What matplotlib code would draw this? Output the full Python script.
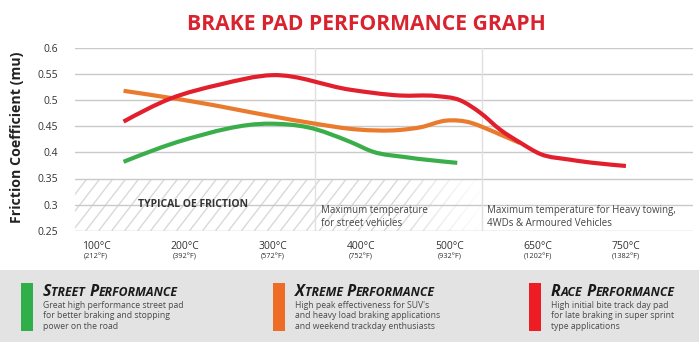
import numpy as np
import matplotlib
matplotlib.use("Agg")
import matplotlib.pyplot as plt
from matplotlib.path import Path
from matplotlib.patches import PathPatch, Rectangle
from matplotlib.collections import LineCollection

plt.rcParams['font.family'] = ['Open Sans', 'DejaVu Sans']

# data (x = position of temperature tick, 0 = 100°C ... 6 = 750°C)
temps_c = ['100°C', '200°C', '300°C', '400°C', '500°C', '650°C', '750°C']
temps_f = ['(212°F)', '(392°F)', '(572°F)', '(752°F)', '(932°F)', '(1202°F)', '(1382°F)']
y_ticks = [0.25, 0.3, 0.35, 0.4, 0.45, 0.5, 0.55, 0.6]

street_x = [0.31, 1.0, 1.97, 2.4, 2.88, 3.14, 3.5, 4.09]
street_y = [0.382, 0.424, 0.455, 0.448, 0.420, 0.401, 0.391, 0.380]

xtreme_x = [0.31, 1.18, 1.97, 2.48, 2.95, 3.44, 3.67, 3.97, 4.24, 4.37, 4.58, 4.8]
xtreme_y = [0.518, 0.495, 0.470, 0.455, 0.444, 0.443, 0.448, 0.461, 0.457, 0.449, 0.434, 0.418]

race_x = [0.31, 0.84, 1.4, 2.0, 2.88, 3.44, 3.85, 4.12, 4.35, 4.58, 4.8, 5.03, 5.37, 6.0]
race_y = [0.459, 0.503, 0.530, 0.548, 0.520, 0.509, 0.508, 0.500, 0.476, 0.443, 0.419, 0.397, 0.386, 0.374]

oe_band = (0.25, 0.35)
dividers = [2.48, 4.37]

legend_titles = [['STREET', 'PERFORMANCE'], ['XTREME', 'PERFORMANCE'], ['RACE', 'PERFORMANCE']]
legend_texts = [
    'Great high performance street pad\nfor better braking and stopping\npower on the road',
    "High peak effectiveness for SUV's\nand heavy load braking applications\nand weekend trackday enthusiasts",
    'High initial bite track day pad\nfor late braking in super sprint\ntype applications',
]

GREEN = '#3aae4a'
ORANGE = '#ea7a2e'
RED = '#e21f2d'
BAR_COLORS = ['#2fae4a', '#ee6c25', '#ee1c25']


def smooth_path(xs, ys):
    # cubic hermite through the points (3-point slopes), as bezier segments
    x = np.asarray(xs, float)
    y = np.asarray(ys, float)
    h = np.diff(x)
    d = np.diff(y) / h
    m = np.empty_like(x)
    m[1:-1] = (d[:-1] * h[1:] + d[1:] * h[:-1]) / (h[:-1] + h[1:])
    m[0] = 1.5 * d[0] - 0.5 * m[1]
    m[-1] = 1.5 * d[-1] - 0.5 * m[-2]
    verts = [(x[0], y[0])]
    codes = [Path.MOVETO]
    for i in range(len(x) - 1):
        verts += [(x[i] + h[i] / 3, y[i] + m[i] * h[i] / 3),
                  (x[i + 1] - h[i] / 3, y[i + 1] - m[i + 1] * h[i] / 3),
                  (x[i + 1], y[i + 1])]
        codes += [Path.CURVE4] * 3
    return Path(verts, codes)


fig = plt.figure(figsize=(6.99, 3.55), dpi=100)

# bottom legend panel (pixel coords)
bax = fig.add_axes([0, 0, 1, 1])
bax.set_xlim(0, 699)
bax.set_ylim(355, 0)
bax.axis('off')
bax.add_patch(Rectangle((0, 270), 699, 72, color='#e3e3e3', lw=0))

ax = fig.add_axes([75 / 699, 1 - 230.7 / 355, (693 - 75) / 699, (230.7 - 48) / 355])
for s in ax.spines.values():
    s.set_visible(False)
ax.set_xticks([])
ax.set_yticks(y_ticks)
ax.set_yticklabels([f'{v:g}' for v in y_ticks], fontsize=7.5, color='#333333')
ax.tick_params(axis='y', length=0, pad=12)
ax.patch.set_alpha(0)

# hatched OE band (diagonal stripes) with fade to the right
band = Rectangle((-0.24, oe_band[0]), 4.64, oe_band[1] - oe_band[0], facecolor='none', lw=0)
ax.add_patch(band)
step = 0.147
rise = 0.219 * 0.5
starts = np.arange(-1.0, 4.6, step)
stripes = [[(s, oe_band[0]), (s + (oe_band[1] - oe_band[0]) / rise * 0.5, oe_band[1])] for s in starts]
lc = LineCollection(stripes, colors='#d9d9d9', lw=1.0, zorder=0.5)
ax.add_collection(lc)
lc.set_clip_path(band)
grad = np.zeros((1, 256, 4))
grad[..., :3] = 1.0
grad[..., 3] = np.clip(np.linspace(-0.5, 1.0, 256), 0, 1) ** 0.8
ax.imshow(grad, extent=[3.0, 4.41, oe_band[0], oe_band[1]], aspect='auto', zorder=0.6,
          interpolation='bilinear')
ax.set_xlim(-0.24, 6.76)
ax.set_ylim(0.25, 0.6)

for v in y_ticks:
    ax.axhline(v, color='#bdbdbd' if v == 0.25 else '#c9c9c9', lw=1.0, zorder=1)
for dv in dividers:
    ax.axvline(dv, color='#e0e0e0', lw=1.0, zorder=1)

for xs, ys, c in [(street_x, street_y, GREEN), (xtreme_x, xtreme_y, ORANGE), (race_x, race_y, RED)]:
    ax.add_patch(PathPatch(smooth_path(xs, ys), facecolor='none', edgecolor=c, lw=3,
                           capstyle='butt', zorder=3))

ax.text(1.1, 0.30, 'TYPICAL OE FRICTION', fontsize=7.5, fontweight='bold', color='#333333',
        ha='center', va='center', zorder=4)
ax.text(2.55, 0.2985, 'Maximum temperature\nfor street vehicles', fontsize=7, color='#444444',
        ha='left', va='top', linespacing=1.15, zorder=4)
ax.text(4.43, 0.2985, 'Maximum temperature for Heavy towing,\n4WDs & Armoured Vehicles', fontsize=7,
        color='#444444', ha='left', va='top', linespacing=1.15, zorder=4)

xt = ax.get_xaxis_transform()
for i, (c, f) in enumerate(zip(temps_c, temps_f)):
    ax.text(i, -0.089, c, transform=xt, fontsize=7.5, color='#333333', ha='center', va='center')
    ax.text(i, -0.144, f, transform=xt, fontsize=5.3, color='#333333', ha='center', va='center')

fig.text(366 / 699, 1 - 25 / 355, 'BRAKE PAD PERFORMANCE GRAPH', fontsize=15.2, fontweight='bold',
         color='#d9232e', ha='center', va='center')
fig.text(17 / 699, 1 - 137 / 355, 'Friction Coefficient (mu)', fontsize=10.2, fontweight='bold',
         color='#222222', rotation=90, ha='center', va='center')

# legend entries
renderer = fig.canvas.get_renderer()
inv = bax.transData.inverted()


def small_caps(x, y, words, big, small, **kw):
    for w in words:
        for part, size in [(w[0], big), (w[1:], small)]:
            t = bax.text(x, y, part, fontsize=size, va='baseline', ha='left', **kw)
            ext = t.get_window_extent(renderer)
            x = inv.transform((ext.x1, ext.y0))[0]
        x += 4


bar_x = [21, 273, 529]
for bx, col, title, desc in zip(bar_x, BAR_COLORS, legend_titles, legend_texts):
    bax.add_patch(Rectangle((bx, 283), 12, 48, color=col, lw=0))
    small_caps(bx + 22, 296, title, 11.5, 8.8, fontweight='bold', style='italic', color='#1a1a1a')
    bax.text(bx + 22, 300.5, desc, fontsize=6.2, color='#4a4a4a', ha='left', va='top', linespacing=1.28)

fig.savefig('out.png', dpi=100)
